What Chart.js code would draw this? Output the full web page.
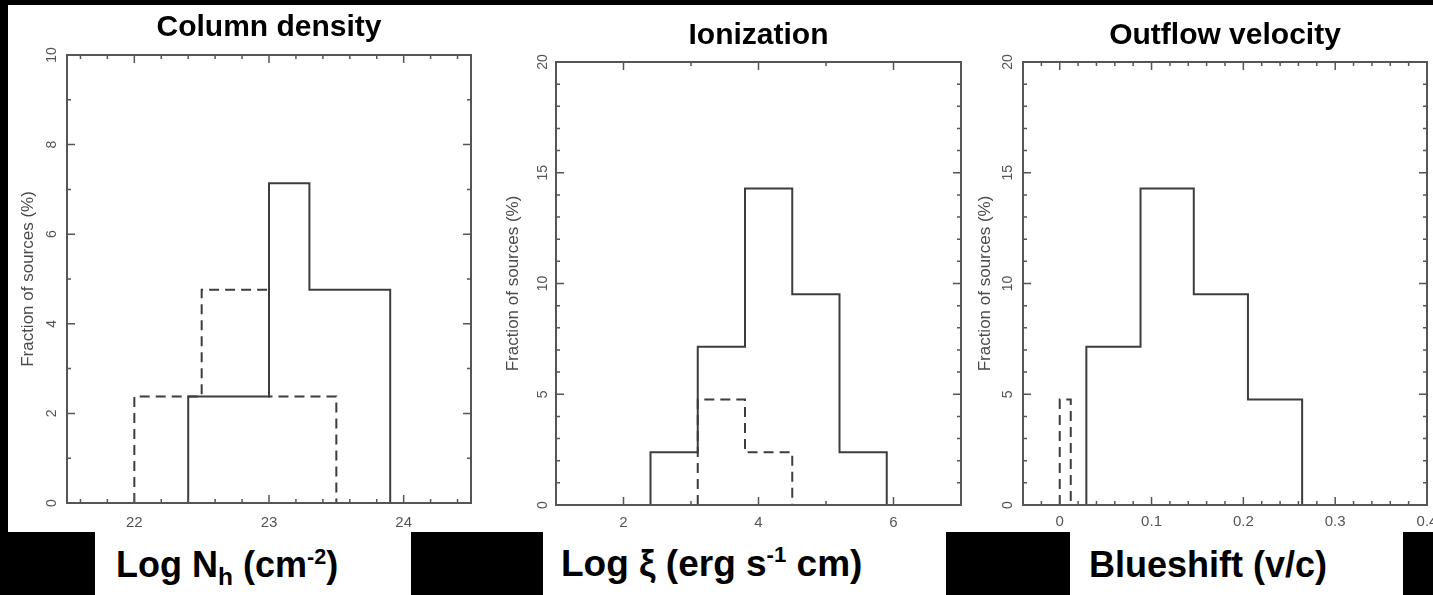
<!DOCTYPE html>
<html>
<head>
<meta charset="utf-8">
<script src="https://cdn.jsdelivr.net/npm/chart.js@4.4.1/dist/chart.umd.min.js"></script>
<style>
  html, body { margin:0; padding:0; background:#000; }
  #stage { position:relative; width:1433px; height:595px; background:#000; overflow:hidden; font-family:"Liberation Sans", Arial, sans-serif; }
  .white { position:absolute; background:#fff; }
  canvas { position:absolute; top:5px; }
  .xl { position:absolute; font-weight:bold; color:#000; white-space:nowrap; }
  .xl sub { font-size:0.68em; vertical-align:baseline; position:relative; top:0.32em; }
  .xl sup { font-size:0.6em; vertical-align:baseline; position:relative; top:-0.62em; }
</style>
</head>
<body>
<div id="stage">
  <div class="white" style="left:8px; top:5px; width:1425px; height:527px;"></div>
  <div class="white" style="left:95px; top:532px; width:316px; height:63px;"></div>
  <div class="white" style="left:543px; top:532px; width:403px; height:63px;"></div>
  <div class="white" style="left:1070px; top:532px; width:333px; height:63px;"></div>

  <canvas id="c1" width="482" height="527" style="left:8px;"></canvas>
  <canvas id="c2" width="475" height="527" style="left:490px;"></canvas>
  <canvas id="c3" width="468" height="527" style="left:965px;"></canvas>

  <div class="xl" style="left:116px; top:544px; font-size:36px; line-height:41px;">Log N<sub>h</sub> (cm<sup>-2</sup>)</div>
  <div class="xl" style="left:561px; top:543px; font-size:37px; line-height:42px;">Log ξ (erg s<sup>-1</sup> cm)</div>
  <div class="xl" style="left:1089px; top:544px; font-size:36px; line-height:41px;">Blueshift (v/c)</div>
</div>
<script>
// ---------------- DATA ----------------
// Panel 1: Column density (Log N_h)
const nhSolidEdges   = [22.4, 22.7, 23.0, 23.3, 23.6, 23.9];
const nhSolidValues  = [2.38, 2.38, 7.14, 4.76, 4.76];
const nhDashedEdges  = [22.0, 22.5, 23.0, 23.5];
const nhDashedValues = [2.38, 4.76, 2.38];
const nhXTicks = [22, 23, 24];
const nhYTicks = [0, 2, 4, 6, 8, 10];

// Panel 2: Ionization (Log xi)
const xiSolidEdges   = [2.4, 3.1, 3.8, 4.5, 5.2, 5.9];
const xiSolidValues  = [2.38, 7.14, 14.29, 9.52, 2.38];
const xiDashedEdges  = [3.1, 3.8, 4.5];
const xiDashedValues = [4.76, 2.38];
const xiXTicks = [2, 4, 6];
const xiYTicks = [0, 5, 10, 15, 20];

// Panel 3: Outflow velocity (blueshift v/c)
const vSolidEdges   = [0.029, 0.088, 0.146, 0.205, 0.264];
const vSolidValues  = [7.14, 14.29, 9.52, 4.76];
const vDashedEdges  = [0.0, 0.012];
const vDashedValues = [4.76];
const vXTicks = [0, 0.1, 0.2, 0.3, 0.4];
const vYTicks = [0, 5, 10, 15, 20];

const yTitle = 'Fraction of sources (%)';

// ---------------- HELPERS ----------------
function histPoints(edges, values) {
  const pts = [{x: edges[0], y: 0}];
  values.forEach((v, i) => pts.push({x: edges[i], y: v}));
  pts.push({x: edges[edges.length - 1], y: 0});
  return pts;
}

const FONT = '"Liberation Sans", Arial, sans-serif';
const AXIS_GRAY = '#555';
const LINE_GRAY = '#3d3d3d';

const frameTicks = {
  id: 'frameTicks',
  afterDatasetsDraw(chart, args, opts) {
    const {ctx, chartArea: a} = chart;
    const xs = chart.scales.x, ys = chart.scales.y;
    ctx.save();
    ctx.strokeStyle = AXIS_GRAY;
    ctx.lineWidth = 1.5;
    const draw = (scale, step, majors, horiz) => {
      const n0 = Math.ceil(scale.min / step - 1e-6), n1 = Math.floor(scale.max / step + 1e-6);
      for (let i = n0; i <= n1; i++) {
        const v = i * step;
        const major = majors.some(m => Math.abs(m - v) < step / 10);
        const len = major ? 8 : 4;
        const p = scale.getPixelForValue(v);
        ctx.beginPath();
        if (horiz) {
          ctx.moveTo(p, a.bottom); ctx.lineTo(p, a.bottom - len);
          ctx.moveTo(p, a.top); ctx.lineTo(p, a.top + len);
        } else {
          ctx.moveTo(a.left, p); ctx.lineTo(a.left + len, p);
          ctx.moveTo(a.right, p); ctx.lineTo(a.right - len, p);
        }
        ctx.stroke();
      }
    };
    draw(xs, opts.xMinor, opts.xMajor, true);
    draw(ys, opts.yMinor, opts.yMajor, false);
    ctx.lineWidth = 2;
    ctx.strokeRect(a.left, a.top, a.right - a.left, a.bottom - a.top);
    ctx.restore();
  }
};

function fmt(v) { return String(+(+v).toFixed(3)); }

function makeChart(id, c) {
  new Chart(document.getElementById(id), {
    type: 'scatter',
    data: {
      datasets: [
        { data: histPoints(c.solidEdges, c.solidValues), showLine: true, stepped: 'before',
          borderColor: LINE_GRAY, borderWidth: 2, pointRadius: 0, fill: false },
        { data: histPoints(c.dashEdges, c.dashValues), showLine: true, stepped: 'before',
          borderColor: LINE_GRAY, borderWidth: 2, borderDash: [10, 6], pointRadius: 0, fill: false }
      ]
    },
    options: {
      responsive: false, animation: false, events: [],
      layout: { padding: { left: 0, top: 0, right: c.padRight, bottom: 0 } },
      plugins: {
        legend: { display: false }, tooltip: { enabled: false },
        title: { display: true, text: c.title, fullSize: false, color: '#000',
                 font: { family: FONT, size: 30, weight: 'bold', lineHeight: 1.2 },
                 padding: { top: c.tTop, bottom: c.tBot } },
        frameTicks: { xMinor: c.xMinor, xMajor: c.xTicks, yMinor: c.yMinor, yMajor: c.yTicks }
      },
      scales: {
        x: {
          type: 'linear', position: 'bottom', min: c.xMin, max: c.xMax,
          grid: { display: false, drawTicks: false }, border: { display: false },
          afterBuildTicks: s => { s.ticks = c.xTicks.map(v => ({ value: v })); },
          ticks: { autoSkip: false, maxRotation: 0, minRotation: 0, padding: c.xPad, color: AXIS_GRAY,
                   font: { family: FONT, size: 15 }, callback: v => fmt(v) },
          afterFit: s => { s.height = c.xH; s.paddingLeft = 0; s.paddingRight = 0; }
        },
        y: {
          type: 'linear', position: 'left', min: c.yMin, max: c.yMax,
          grid: { display: false, drawTicks: false }, border: { display: false },
          afterBuildTicks: s => { s.ticks = c.yTicks.map(v => ({ value: v })); },
          ticks: { autoSkip: false, minRotation: 90, maxRotation: 90, crossAlign: 'center', padding: c.yPad,
                   color: AXIS_GRAY, font: { family: FONT, size: 14 }, callback: v => fmt(v) },
          title: { display: true, text: yTitle, color: '#4a4a4a', font: { family: FONT, size: 17 },
                   padding: { top: c.yTitlePad, bottom: 0 } },
          afterFit: s => { s.width = c.yW; s.paddingTop = 0; s.paddingBottom = 0; }
        }
      }
    },
    plugins: [frameTicks]
  });
}

makeChart('c1', {
  title: 'Column density', tTop: 4.5, tBot: 9.5, padRight: 19, yW: 59, xH: 29, xPad: 11, yPad: 7, yTitlePad: 10,
  xMin: 21.5, xMax: 24.5, yMin: 0, yMax: 10, xMinor: 0.2, yMinor: 1, xTicks: nhXTicks, yTicks: nhYTicks,
  solidEdges: nhSolidEdges, solidValues: nhSolidValues, dashEdges: nhDashedEdges, dashValues: nhDashedValues
});
makeChart('c2', {
  title: 'Ionization', tTop: 12.5, tBot: 8.5, padRight: 4, yW: 66, xH: 27, xPad: 9, yPad: 5, yTitlePad: 13,
  xMin: 1, xMax: 7, yMin: 0, yMax: 20, xMinor: 1, yMinor: 1, xTicks: xiXTicks, yTicks: xiYTicks,
  solidEdges: xiSolidEdges, solidValues: xiSolidValues, dashEdges: xiDashedEdges, dashValues: xiDashedValues
});
makeChart('c3', {
  title: 'Outflow velocity', tTop: 13, tBot: 8, padRight: 6, yW: 58, xH: 27, xPad: 8, yPad: 7, yTitlePad: 10,
  xMin: -0.04, xMax: 0.4, yMin: 0, yMax: 20, xMinor: 0.02, yMinor: 1, xTicks: vXTicks, yTicks: vYTicks,
  solidEdges: vSolidEdges, solidValues: vSolidValues, dashEdges: vDashedEdges, dashValues: vDashedValues
});
</script>
</body>
</html>
